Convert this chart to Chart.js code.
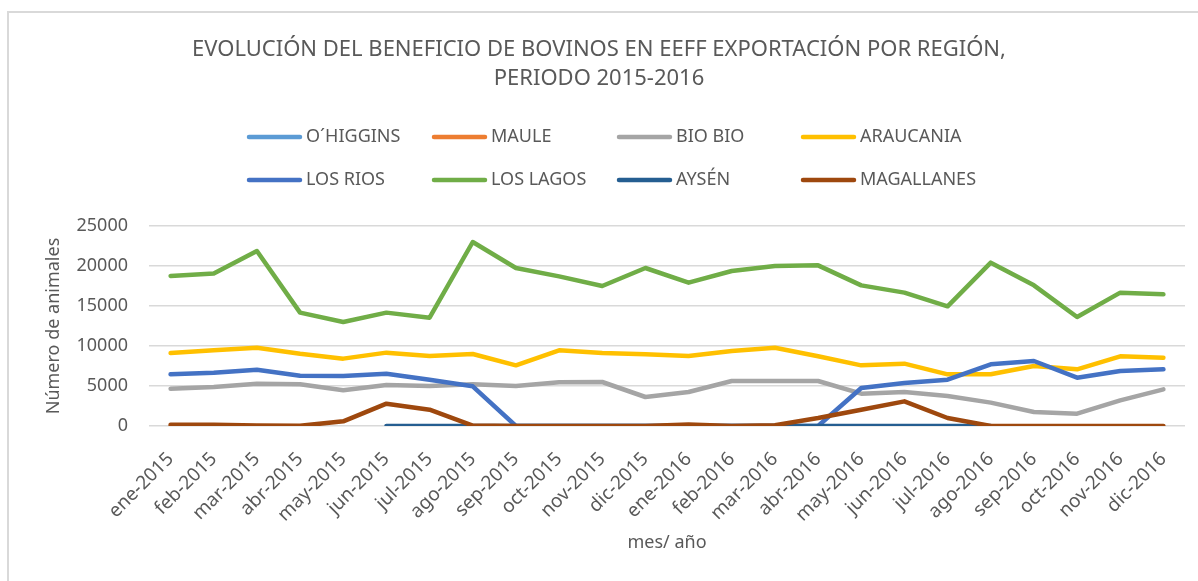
<!DOCTYPE html>
<html>
<head>
<meta charset="utf-8">
<script src="https://cdn.jsdelivr.net/npm/chart.js@4.4.1/dist/chart.umd.min.js"></script>
<style>
  body { margin: 0; background: #fff; }
  canvas { display: block; }
</style>
</head>
<body>
<canvas id="grafico" width="1198" height="581"></canvas>
<script>
const meses = ['ene-2015', 'feb-2015', 'mar-2015', 'abr-2015', 'may-2015', 'jun-2015',
    'jul-2015', 'ago-2015', 'sep-2015', 'oct-2015', 'nov-2015', 'dic-2015',
    'ene-2016', 'feb-2016', 'mar-2016', 'abr-2016', 'may-2016', 'jun-2016',
    'jul-2016', 'ago-2016', 'sep-2016', 'oct-2016', 'nov-2016', 'dic-2016'];

const regiones = ['O´HIGGINS', 'MAULE', 'BIO BIO', 'ARAUCANIA', 'LOS RIOS', 'LOS LAGOS', 'AYSÉN', 'MAGALLANES'];
const colores = ['#5B9BD5', '#ED7D31', '#A5A5A5', '#FFC000', '#4472C4', '#70AD47', '#255E91', '#9E480E'];

const ohiggins = [null, null, null, null, null, null, null, null, null, null, null, null,
    null, null, null, null, null, null, null, null, null, null, null, null];
const maule = [null, null, null, null, null, null, null, null, null, null, null, null,
    null, null, null, null, null, null, null, null, null, null, null, null];
const bioBio = [4670, 4875, 5290, 5210, 4460, 5125, 5000, 5210, 5000, 5460, 5500, 3625,
    4250, 5625, 5625, 5625, 4040, 4250, 3750, 2920, 1750, 1540, 3210, 4580];
const araucania = [9125, 9460, 9790, 9040, 8420, 9170, 8750, 9000, 7580, 9460, 9125, 8960,
    8750, 9375, 9790, 8710, 7580, 7790, 6460, 6460, 7500, 7080, 8710, 8540];
const losRios = [6460, 6670, 7040, 6290, 6250, 6540, 5790, 4960, 0, 0, 0, 0,
    0, 0, 0, 0, 4750, 5375, 5790, 7710, 8125, 6040, 6875, 7080];
const losLagos = [18750, 19050, 21875, 14170, 13000, 14170, 13540, 23000, 19750, 18700, 17500, 19750,
    17920, 19375, 20000, 20080, 17580, 16670, 14960, 20420, 17580, 13625, 16670, 16460];
const aysen = [null, null, null, null, null, 0, 0, 0, 0, 0, 0, 0,
    0, 0, 0, 0, 0, 0, 0, 0, null, null, null, null];
const magallanes = [150, 150, 50, 30, 580, 2790, 2040, 50, 0, 0, 0, 0,
    200, 0, 100, 1000, 2040, 3080, 1000, 0, 0, 0, 0, 0];

const series = [ohiggins, maule, bioBio, araucania, losRios, losLagos, aysen, magallanes];

const tituloLineas = ['EVOLUCIÓN DEL BENEFICIO DE BOVINOS EN EEFF EXPORTACIÓN POR REGIÓN,', 'PERIODO 2015-2016'];
const ticksY = [0, 5000, 10000, 15000, 20000, 25000];

const gris = '#595959';
const fuente = '"Noto Sans", sans-serif';

// Título, leyenda en 4 columnas y marco, como en Excel
const cabecera = {
    id: 'cabecera',
    beforeDraw(chart) {
        const ctx = chart.ctx;
        ctx.save();
        ctx.strokeStyle = '#d9d9d9';
        ctx.lineWidth = 2;
        ctx.beginPath();
        ctx.moveTo(8, 581);
        ctx.lineTo(8, 12);
        ctx.lineTo(1198, 12);
        ctx.stroke();
        ctx.restore();
    },
    afterDraw(chart) {
        const ctx = chart.ctx;
        ctx.save();
        ctx.fillStyle = gris;
        ctx.textBaseline = 'middle';
        ctx.textAlign = 'center';
        ctx.font = '22px ' + fuente;
        ctx.fillText(tituloLineas[0], 599, 50);
        ctx.fillText(tituloLineas[1], 599, 79);

        const columnas = [247, 432, 617, 801];
        const filas = [137, 180];
        ctx.font = '18px ' + fuente;
        ctx.textAlign = 'left';
        ctx.lineCap = 'round';
        ctx.lineWidth = 4.5;
        chart.data.datasets.forEach((ds, i) => {
            const x = columnas[i % 4];
            const y = filas[Math.floor(i / 4)];
            ctx.strokeStyle = ds.borderColor;
            ctx.beginPath();
            ctx.moveTo(x + 2, y);
            ctx.lineTo(x + 53, y);
            ctx.stroke();
            ctx.fillText(ds.label, x + 59, y);
        });
        ctx.restore();
    }
};

const datasets = series.map((datos, i) => ({
    label: regiones[i],
    data: datos,
    borderColor: colores[i],
    backgroundColor: colores[i],
    borderWidth: 4.5,
    borderCapStyle: 'round',
    borderJoinStyle: 'round',
    pointRadius: 0,
    pointHoverRadius: 0,
    tension: 0,
    fill: false,
    // en Excel la última serie queda encima
    order: series.length - 1 - i
}));

new Chart(document.getElementById('grafico'), {
    type: 'line',
    data: { labels: meses, datasets: datasets },
    options: {
        responsive: false,
        animation: false,
        layout: { padding: { top: 226, right: 13, left: 0, bottom: 0 } },
        plugins: {
            legend: { display: false },
            title: { display: false },
            tooltip: { enabled: false }
        },
        scales: {
            x: {
                offset: true,
                grid: { display: false },
                border: { display: false },
                ticks: {
                    autoSkip: false,
                    minRotation: 45,
                    maxRotation: 45,
                    padding: 14,
                    color: gris,
                    font: { family: fuente, size: 19 }
                },
                title: {
                    display: true,
                    text: 'mes/ año',
                    color: gris,
                    font: { family: fuente, size: 18 },
                    padding: { top: 0, bottom: 27 }
                },
                afterFit(s) { s.height = 155; }
            },
            y: {
                min: 0,
                max: 25000,
                afterBuildTicks(s) { s.ticks = ticksY.map(v => ({ value: v })); },
                grid: { color: '#d9d9d9', lineWidth: 1.5, drawTicks: false },
                border: { display: false },
                ticks: {
                    padding: 21,
                    color: gris,
                    font: { family: fuente, size: 18 },
                    callback: v => String(v)
                },
                title: {
                    display: true,
                    text: 'Número de animales',
                    color: gris,
                    font: { family: fuente, size: 18 },
                    padding: { top: 43, bottom: 0 }
                },
                afterFit(s) { s.width = 149; }
            }
        }
    },
    plugins: [cabecera]
});
</script>
</body>
</html>
